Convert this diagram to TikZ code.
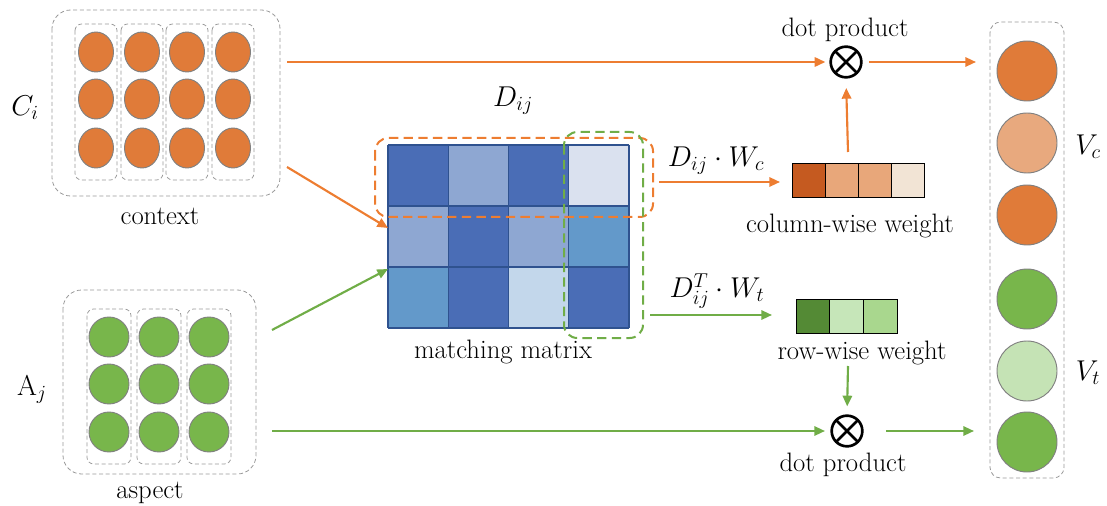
\RequirePackage{fix-cm}
\documentclass[tikz,border=0pt]{standalone}
\usetikzlibrary{arrows.meta,shapes.geometric}
\definecolor{oline}{HTML}{ED7D31}
\definecolor{gline}{HTML}{70AD47}
\definecolor{ofill}{HTML}{E07B39}
\definecolor{olight}{HTML}{E8A97E}
\definecolor{gfill}{HTML}{78B64B}
\definecolor{glight}{HTML}{C5E3B5}
\definecolor{bdark}{HTML}{4A6DB6}
\definecolor{bperi}{HTML}{8EA7D2}
\definecolor{bvlight}{HTML}{DAE1EF}
\definecolor{bmed}{HTML}{6399CA}
\definecolor{blight}{HTML}{C3D7EB}
\definecolor{bgrid}{HTML}{2F528F}
\definecolor{wo1}{HTML}{C55A20}
\definecolor{wo2}{HTML}{E8A77A}
\definecolor{wo3}{HTML}{F2E4D5}
\definecolor{wg1}{HTML}{548A35}
\definecolor{wg2}{HTML}{C6E6B9}
\definecolor{wg3}{HTML}{A9D78E}
\tikzset{
  graybox/.style={draw=gray!80, densely dashed, line width=0.6pt},
  octx/.style={ellipse, draw=gray, line width=0.7pt, fill=ofill, minimum width=26.25pt, minimum height=30pt, inner sep=0pt},
  gasp/.style={circle, draw=gray, line width=0.7pt, fill=gfill, minimum size=30pt, inner sep=0pt},
  vcirc/.style={circle, draw=gray, line width=0.7pt, minimum size=45pt, inner sep=0pt},
  oarrow/.style={draw=oline, line width=1.6pt, -{Triangle[length=8pt,width=7pt]}},
  garrow/.style={draw=gline, line width=1.6pt, -{Triangle[length=8pt,width=7pt]}},
  otimesnode/.style={circle, draw=black, line width=2pt, minimum size=23pt, inner sep=0pt,
    path picture={\draw[line width=2pt] (path picture bounding box.south west) -- (path picture bounding box.north east) (path picture bounding box.north west) -- (path picture bounding box.south east);}},
  lbl/.style={font=\rmfamily\fontsize{20}{24}\selectfont, inner sep=0pt},
  mlbl/.style={font=\rmfamily\fontsize{21.5}{26}\selectfont, inner sep=0pt},
  wcell/.style={draw=black, line width=0.7pt},
}
\begin{document}
\begin{tikzpicture}[x=0.75pt,y=-0.75pt]
\useasboundingbox (0,0) rectangle (1107,506);
% ---------- context ----------
\draw[graybox, rounded corners=14pt] (52,10) rectangle (280,196);
\foreach \x [count=\i] in {96,142,187,233} {
  \draw[graybox, rounded corners=5pt] (\x-21,24) rectangle (\x+21,180);
  \foreach \y [count=\j] in {52,99,148} {
    \node[octx] (c-\i-\j) at (\x,\y) {};
  }
}
\node[mlbl] (clab) at (25,108) {$C_i$};
\node[lbl] (ctxt) at (160,216) {context};
% ---------- aspect ----------
\draw[graybox, rounded corners=14pt] (63,290) rectangle (256,474);
\foreach \x [count=\i] in {109,159,209} {
  \draw[graybox, rounded corners=5pt] (\x-22,309) rectangle (\x+22,464);
  \foreach \y [count=\j] in {337,384,432} {
    \node[gasp] (a-\i-\j) at (\x,\y) {};
  }
}
\node[mlbl] (alab) at (32,390) {$\mathrm{A}_j$};
\node[lbl] (atxt) at (150,493) {aspect};
% ---------- matching matrix ----------
\foreach \c [count=\k from 0] in {bdark,bperi,bdark,bvlight,bperi,bdark,bperi,bmed,bmed,bdark,blight,bdark} {
  \pgfmathtruncatemacro{\r}{int(\k/4)}
  \pgfmathtruncatemacro{\cc}{mod(\k,4)}
  \fill[\c] (388+60.25*\cc,145+61*\r) rectangle (388+60.25*\cc+60.25,145+61*\r+61);
}
\foreach \cc in {0,...,4} \draw[bgrid, line width=1pt] (388+60.25*\cc,145) -- (388+60.25*\cc,328);
\foreach \r in {0,...,3} \draw[bgrid, line width=1pt] (388,145+61*\r) -- (629,145+61*\r);
\coordinate (mrow2) at (388,228);
\coordinate (mrow3) at (388,269);
\draw[oline, line width=1.5pt, dash pattern=on 7pt off 4pt, rounded corners=10pt] (375,138) rectangle (653,217);
\draw[gline, line width=1.5pt, dash pattern=on 7pt off 4pt, rounded corners=10pt] (564,132) rectangle (643,338);
\node[mlbl] (dlab) at (513,101) {$D_{ij}$};
\node[lbl] (mtxt) at (503,352) {matching matrix};
% ---------- column-wise weight ----------
\foreach \c [count=\k from 0] in {wo1,wo2,wo2,wo3} {
  \draw[wcell, fill=\c] (792+33*\k,163) rectangle (825+33*\k,197);
}
\coordinate (cwtop) at (848,152);
\coordinate (cwin) at (780,182);
\coordinate (cwsrc) at (659,182);
\node[lbl] (cwtxt) at (850,226) {column-wise weight};
\node[mlbl] (dwc) at (716,161) {$D_{ij}\cdot W_c$};
% ---------- row-wise weight ----------
\foreach \c [count=\k from 0] in {wg1,wg2,wg3} {
  \draw[wcell, fill=\c] (796+33.7*\k,299) rectangle (829.7+33.7*\k,333);
}
\coordinate (rwbot) at (848,366);
\coordinate (rwin) at (772,315);
\coordinate (rwsrc) at (650,315);
\node[lbl] (rwtxt) at (862,353) {row-wise weight};
\node[mlbl] (dwt) at (717,291) {$D_{ij}^{T}\cdot W_t$};
% ---------- dot products ----------
\node[otimesnode] (ot1) at (846,62) {};
\node[lbl] (dp1) at (845,30) {dot product};
\node[otimesnode] (ot2) at (847,431) {};
\node[lbl] (dp2) at (843,465) {dot product};
% ---------- output vectors ----------
\draw[graybox, rounded corners=8pt] (990,22) rectangle (1064,478);
\node[vcirc, fill=ofill] (v1) at (1027,71) {};
\node[vcirc, fill=olight] (v2) at (1027,143) {};
\node[vcirc, fill=ofill] (v3) at (1027,215) {};
\node[vcirc, fill=gfill] (v4) at (1027,299) {};
\node[vcirc, fill=glight] (v5) at (1027,371) {};
\node[vcirc, fill=gfill] (v6) at (1027,442) {};
\node[mlbl] (vclab) at (1088,147) {$V_c$};
\node[mlbl] (vtlab) at (1088,373) {$V_t$};
\coordinate (vin1) at (976,62);
\coordinate (vin2) at (974,431);
% ---------- connectors ----------
\coordinate (ctxout1) at (287,62);
\coordinate (ctxout2) at (287,167);
\coordinate (aspout1) at (272,330);
\coordinate (aspout2) at (272,431);
\draw[oarrow, shorten >=3pt] (ctxout1) -- (ot1.west);
\draw[oarrow, shorten <=5pt] (ot1.east) -- (vin1);
\draw[oarrow, shorten >=7pt] (cwtop) -- (ot1.south);
\draw[oarrow] (ctxout2) -- (mrow2);
\draw[oarrow] (cwsrc) -- (cwin);
\draw[garrow] (aspout1) -- (mrow3);
\draw[garrow] (rwsrc) -- (rwin);
\draw[garrow, shorten >=6pt] (rwbot) -- (ot2.north);
\draw[garrow, shorten >=4pt] (aspout2) -- (ot2.west);
\draw[garrow, shorten <=17pt] (ot2.east) -- (vin2);
\end{tikzpicture}
\end{document}
